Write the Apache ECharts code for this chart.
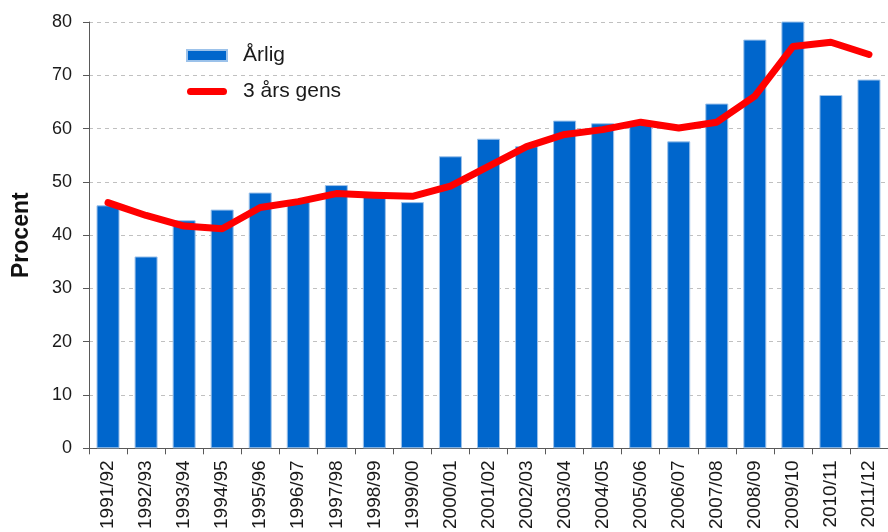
<!DOCTYPE html>
<html>
<head>
<meta charset="utf-8">
<script src="https://cdn.jsdelivr.net/npm/echarts@6/dist/echarts.min.js"></script>
<style>
  html, body { margin: 0; padding: 0; background: #fff; }
  #chart { width: 888px; height: 532px; }
</style>
</head>
<body>
<div id="chart"></div>
<script>
// läsår
var years = ['1991/92', '1992/93', '1993/94', '1994/95', '1995/96', '1996/97', '1997/98',
    '1998/99', '1999/00', '2000/01', '2001/02', '2002/03', '2003/04', '2004/05', '2005/06',
    '2006/07', '2007/08', '2008/09', '2009/10', '2010/11', '2011/12'];

// årlig andel (procent)
var arlig = [45.6, 36.0, 42.8, 44.8, 48.0, 46.4, 49.4, 47.2, 46.2, 54.8, 58.1,
    56.7, 61.5, 61.0, 60.9, 57.6, 64.7, 76.7, 80.2, 66.3, 69.2];

// 3 års glidande genomsnitt
var gens3 = [46.1, 43.7, 41.7, 41.2, 45.2, 46.3, 47.8, 47.5, 47.3, 49.2, 52.9,
    56.6, 58.9, 59.8, 61.2, 60.1, 61.2, 66.1, 75.4, 76.2, 73.9];

var yTicks = { min: 0, max: 80, step: 10 };

// tjock rundad linje som legend-ikon
var lineIcon = 'path://M3.5,0 L36.5,0 A3.5,3.5 0 0 1 36.5,7 L3.5,7 A3.5,3.5 0 0 1 3.5,0 Z';

var myChart = echarts.init(document.getElementById('chart'));

myChart.setOption({
    animation: false,
    textStyle: { fontFamily: 'Liberation Sans, Arial, sans-serif' },
    grid: { left: 89, top: 22, width: 812, height: 427 },
    legend: {
        orient: 'vertical',
        left: 181,
        top: 40,
        itemWidth: 40,
        itemHeight: 11,
        itemGap: 15,
        textStyle: { fontSize: 21, color: '#1a1a1a', padding: [0, 0, 0, 11] },
        data: [
            { name: 'Årlig', icon: 'rect' },
            { name: '3 års gens', icon: lineIcon }
        ]
    },
    xAxis: {
        type: 'category',
        data: years,
        axisLine: { lineStyle: { color: '#595959', width: 1 } },
        axisTick: { show: true, length: 6, lineStyle: { color: '#595959' } },
        axisLabel: { rotate: 90, fontSize: 19, color: '#1a1a1a', margin: 12, interval: 0 }
    },
    yAxis: {
        type: 'value',
        min: yTicks.min,
        max: yTicks.max,
        interval: yTicks.step,
        name: 'Procent',
        nameLocation: 'middle',
        nameGap: 56,
        nameTextStyle: { fontSize: 23, fontWeight: 'bold', color: '#111' },
        axisLine: { show: true, lineStyle: { color: '#595959', width: 1 } },
        axisTick: { show: true, length: 6, lineStyle: { color: '#595959' } },
        axisLabel: { fontSize: 18, color: '#1a1a1a', margin: 17 },
        splitLine: { lineStyle: { color: '#c0c0c0', type: [4, 4] } }
    },
    series: [
        {
            name: 'Årlig',
            type: 'bar',
            data: arlig,
            barWidth: 23,
            itemStyle: { color: '#0066cc', borderColor: '#9cc2ea', borderWidth: 1 }
        },
        {
            name: '3 års gens',
            type: 'line',
            data: gens3,
            symbol: 'none',
            lineStyle: { color: '#ff0000', width: 7, cap: 'round', join: 'round' },
            itemStyle: { color: '#ff0000' },
            z: 5
        }
    ]
});
</script>
</body>
</html>
